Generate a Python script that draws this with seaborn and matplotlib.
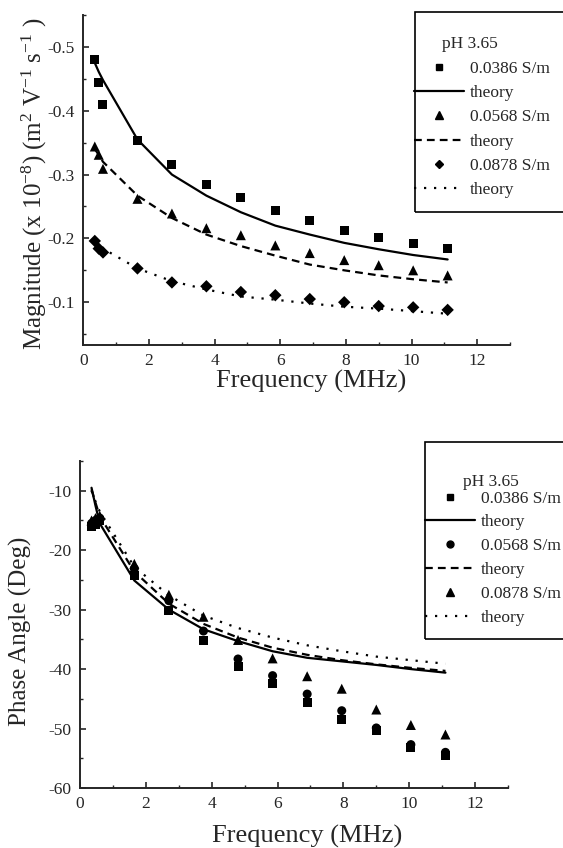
import matplotlib
matplotlib.use("Agg")
import matplotlib.pyplot as plt
import seaborn as sns
import pandas as pd
from matplotlib.lines import Line2D
from matplotlib.patches import Rectangle
from matplotlib.ticker import MultipleLocator

# ---------------- data ----------------
freq = [0.35, 0.47, 0.6, 1.65, 2.7, 3.75, 4.8, 5.85, 6.9, 7.95, 9.0, 10.05, 11.1]

mag_0386 = [-0.480, -0.444, -0.410, -0.353, -0.316, -0.285, -0.264, -0.244, -0.228, -0.212, -0.202, -0.192, -0.184]
mag_0568 = [-0.344, -0.331, -0.309, -0.262, -0.239, -0.216, -0.205, -0.189, -0.177, -0.166, -0.158, -0.150, -0.142]
mag_0878 = [-0.196, -0.184, -0.178, -0.153, -0.131, -0.125, -0.116, -0.111, -0.105, -0.100, -0.094, -0.092, -0.088]
th_mag_0386 = [-0.475, -0.461, -0.448, -0.355, -0.300, -0.267, -0.241, -0.220, -0.206, -0.193, -0.183, -0.174, -0.167]
th_mag_0568 = [-0.340, -0.331, -0.320, -0.267, -0.232, -0.206, -0.188, -0.173, -0.159, -0.150, -0.142, -0.136, -0.131]
th_mag_0878 = [-0.198, -0.190, -0.184, -0.153, -0.133, -0.120, -0.109, -0.104, -0.098, -0.093, -0.090, -0.086, -0.082]

ph_0386 = [-16.0, -15.6, -15.0, -24.2, -30.1, -35.2, -39.5, -42.5, -45.7, -48.4, -50.3, -53.2, -54.6]
ph_0568 = [-15.5, -15.0, -14.6, -23.1, -28.5, -33.6, -38.3, -41.1, -44.2, -47.0, -49.9, -52.7, -54.0]
ph_0878 = [-15.0, -14.6, -14.2, -22.3, -27.5, -31.2, -35.1, -38.2, -41.2, -43.3, -46.8, -49.4, -51.0]
th_ph_0386 = [-9.5, -12.5, -15.5, -25.1, -30.0, -33.3, -35.3, -37.0, -38.1, -38.7, -39.3, -40.0, -40.6]
th_ph_0568 = [-9.8, -12.0, -14.3, -23.6, -29.0, -32.4, -34.7, -36.4, -37.6, -38.5, -39.2, -39.8, -40.3]
th_ph_0878 = [-10.0, -11.8, -13.5, -22.8, -27.6, -31.0, -33.1, -34.7, -36.0, -37.0, -37.9, -38.5, -39.1]

labels_top = ["0.0386 S/m", "theory", "0.0568 S/m", "theory", "0.0878 S/m", "theory"]
legend_title = "pH 3.65"
xlabel = "Frequency (MHz)"
ylabel_top = r"Magnitude (x 10$^{-8}$) (m$^{2}$ V$^{-1}$ s$^{-1}$ )"
ylabel_bot = "Phase Angle (Deg)"

# ---------------- style ----------------
sns.set_style("ticks")
plt.rcParams["font.family"] = ["Liberation Serif", "DejaVu Serif"]
plt.rcParams["mathtext.fontset"] = "custom"
plt.rcParams["mathtext.rm"] = "Liberation Serif"
plt.rcParams["mathtext.it"] = "Liberation Serif:italic"
plt.rcParams["axes.unicode_minus"] = False

W, H = 563, 848
fig = plt.figure(figsize=(W / 100, H / 100), dpi=100)
fig.patch.set_facecolor("white")

def fx(px):
    return px / W

def fy(py):
    return 1 - py / H

ax1 = fig.add_axes([fx(83.3), fy(345), fx(510) - fx(83.3), fy(15) - fy(345)])
ax2 = fig.add_axes([fx(80), fy(788), fx(508) - fx(80), fy(461) - fy(788)])

LW = 1.6
DASH = (0, (3.5, 2.3))
DOT = (0, (1, 3.5))

def draw(ax, d1, d2, d3, t1, t2, t3, m2):
    df = pd.DataFrame({"f": freq, "d1": d1, "d2": d2, "d3": d3, "t1": t1, "t2": t2, "t3": t3})
    sns.lineplot(data=df, x="f", y="t1", ax=ax, color="black", lw=LW, linestyle="-", sort=False, estimator=None)
    sns.lineplot(data=df, x="f", y="t2", ax=ax, color="black", lw=LW, linestyle=DASH, sort=False, estimator=None)
    sns.lineplot(data=df, x="f", y="t3", ax=ax, color="black", lw=LW, linestyle=DOT, sort=False, estimator=None)
    sns.scatterplot(data=df, x="f", y="d1", ax=ax, marker="s", s=42, color="black", edgecolor="none", zorder=3)
    sns.scatterplot(data=df, x="f", y="d2", ax=ax, marker=m2[0], s=m2[1], color="black", edgecolor="none", zorder=3)
    return df

draw(ax1, mag_0386, mag_0568, mag_0878, th_mag_0386, th_mag_0568, th_mag_0878, ("^", 52))
sns.scatterplot(x=freq, y=mag_0878, ax=ax1, marker="D", s=40, color="black", edgecolor="none", zorder=3)

draw(ax2, ph_0386, ph_0568, ph_0878, th_ph_0386, th_ph_0568, th_ph_0878, ("o", 42))
sns.scatterplot(x=freq, y=ph_0878, ax=ax2, marker="^", s=52, color="black", edgecolor="none", zorder=3)

for ax in (ax1, ax2):
    ax.set_xlim(0, 13)
    ax.xaxis.set_major_locator(MultipleLocator(2))
    ax.xaxis.set_minor_locator(MultipleLocator(1))
    for s in ("top", "right"):
        ax.spines[s].set_visible(False)
    for s in ("left", "bottom"):
        ax.spines[s].set_linewidth(1.4)
    ax.tick_params(which="major", direction="in", length=4.5, width=1.2, labelsize=12.5, pad=6)
    ax.tick_params(which="minor", direction="in", length=2.5, width=1.0)
    ax.set_facecolor("white")
    ax.set_xlabel(xlabel, fontsize=19)

ax1.set_ylim(-0.033, -0.55)
ax1.yaxis.set_major_locator(MultipleLocator(0.1))
ax1.yaxis.set_minor_locator(MultipleLocator(0.05))
ax1.set_ylabel(ylabel_top, fontsize=18)
ax1.xaxis.set_label_coords(0.533, -0.076)
ax1.yaxis.set_label_coords(-0.080, 0.49)

ax2.set_ylim(-60, -5)
ax2.yaxis.set_major_locator(MultipleLocator(10))
ax2.yaxis.set_minor_locator(MultipleLocator(5))
ax2.set_ylabel(ylabel_bot, fontsize=18)
ax2.xaxis.set_label_coords(0.53, -0.112)
ax2.yaxis.set_label_coords(-0.112, 0.48)

# ---------------- legends ----------------
def handles(markers):
    h = []
    ls = ["-", DASH, DOT]
    for i, (m, ms) in enumerate(markers):
        h.append(Line2D([], [], marker=m, markersize=ms, color="black", linestyle="none"))
        h.append(Line2D([], [], color="black", lw=LW, linestyle=ls[i]))
    return h

def legend(ax, markers, left, top_row, box, title_xy, spacing):
    leg = ax.legend(handles(markers), labels_top, loc="upper left",
                    bbox_to_anchor=(fx(left), fy(top_row)), bbox_transform=fig.transFigure,
                    frameon=False, borderpad=0, borderaxespad=0, fontsize=12.5,
                    handlelength=2.9, handletextpad=0.3, labelspacing=spacing)
    fig.text(fx(title_xy[0]), fy(title_xy[1]), legend_title, fontsize=12.5, ha="left", va="center")
    x0, y0, x1, y1 = box
    fig.patches.append(Rectangle((fx(x0), fy(y1)), fx(x1) - fx(x0), fy(y0) - fy(y1),
                                 transform=fig.transFigure, fill=False, lw=1.2,
                                 edgecolor="black", clip_on=False))
    return leg

legend(ax1, [("s", 5), ("^", 5.5), ("D", 4.5)], 414, 60.5, (415, 12, 570, 212), (442, 44), 0.47)
legend(ax2, [("s", 5), ("o", 5), ("^", 5.5)], 425, 490.5, (425, 442, 570, 639), (463, 482), 0.44)

fig.savefig("out.png", dpi=100, facecolor="white")
